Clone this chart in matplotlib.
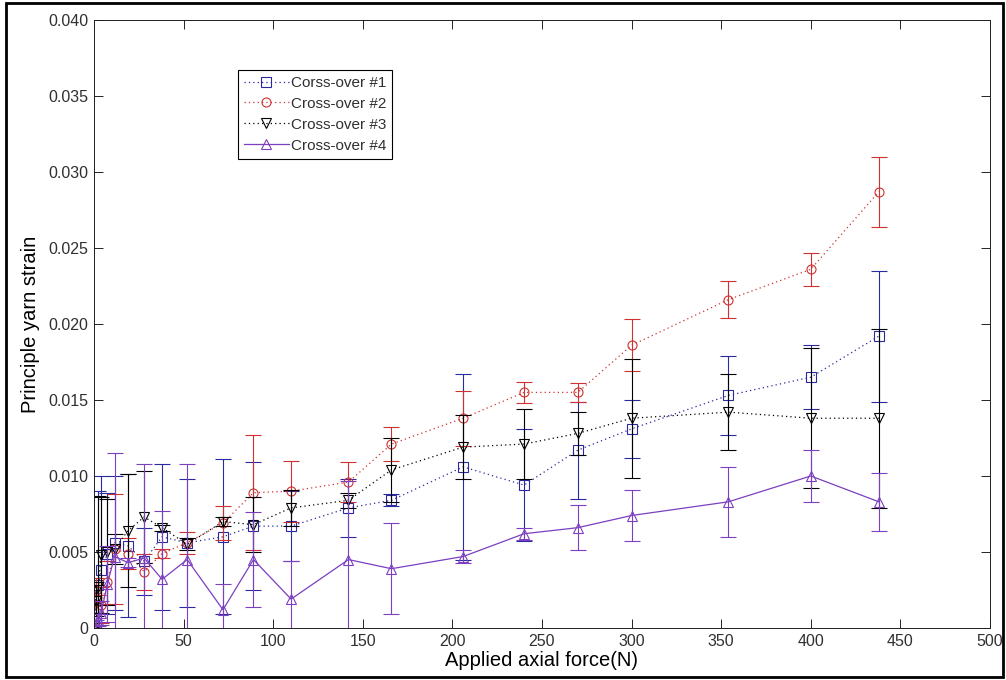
import matplotlib
matplotlib.use('Agg')
import matplotlib.pyplot as plt
from matplotlib.patches import Rectangle
from matplotlib.ticker import FuncFormatter

# applied axial force (N), shared by all four cross-overs
force = [0, 1, 2.5, 4, 7.5, 11.5, 19, 28, 38, 52, 72, 89, 110, 142, 166, 206, 240, 270, 300, 354, 400, 438]

strain_1 = [0.0001, 0.0020, 0.0028, 0.0038, 0.0049, 0.0056, 0.0054, 0.0044, 0.0060, 0.0056, 0.0060,
            0.0067, 0.0067, 0.0079, 0.0084, 0.0106, 0.0094, 0.0117, 0.0131, 0.0153, 0.0165, 0.0192]
err_1 = [0.0001, 0.0010, 0.0062, 0.0062, 0.0040, 0.0044, 0.0047, 0.0022, 0.0048, 0.0042, 0.0051,
         0.0042, 0.0023, 0.0019, 0.0004, 0.0061, 0.0037, 0.0032, 0.0019, 0.0026, 0.0021, 0.0043]

strain_2 = [0.0000, 0.0025, 0.0012, 0.0015, 0.0030, 0.0052, 0.0049, 0.0037, 0.0049, 0.0056, 0.0069,
            0.0089, 0.0090, 0.0096, 0.0121, 0.0138, 0.0155, 0.0155, 0.0186, 0.0216, 0.0236, 0.0287]
err_2 = [0.0001, 0.0008, 0.0010, 0.0012, 0.0014, 0.0036, 0.0010, 0.0012, 0.0003, 0.0007, 0.0011,
         0.0038, 0.0020, 0.0013, 0.0011, 0.0018, 0.0007, 0.0006, 0.0017, 0.0012, 0.0011, 0.0023]

strain_3 = [0.0000, 0.0018, 0.0027, 0.0048, 0.0050, 0.0052, 0.0064, 0.0073, 0.0066, 0.0055, 0.0070,
            0.0068, 0.0079, 0.0084, 0.0104, 0.0119, 0.0121, 0.0128, 0.0138, 0.0142, 0.0138, 0.0138]
err_3 = [0.0001, 0.0010, 0.0060, 0.0038, 0.0035, 0.0010, 0.0037, 0.0030, 0.0002, 0.0004, 0.0003,
         0.0018, 0.0012, 0.0005, 0.0021, 0.0021, 0.0023, 0.0014, 0.0039, 0.0025, 0.0046, 0.0059]

strain_4 = [0.0000, 0.0003, 0.0005, 0.0010, 0.0029, 0.0047, 0.0043, 0.0046, 0.0032, 0.0045, 0.0012,
            0.0045, 0.0019, 0.0045, 0.0039, 0.0047, 0.0062, 0.0066, 0.0074, 0.0083, 0.0100, 0.0083]
err_4 = [0.0001, 0.0002, 0.0004, 0.0008, 0.0025, 0.0068, 0.0003, 0.0062, 0.0045, 0.0063, 0.0017,
         0.0031, 0.0025, 0.0052, 0.0030, 0.0004, 0.0004, 0.0015, 0.0017, 0.0023, 0.0017, 0.0019]

labels = ['Corss-over #1', 'Cross-over #2', 'Cross-over #3', 'Cross-over #4']

plt.rcParams['font.family'] = ['Liberation Sans', 'DejaVu Sans']

fig = plt.figure(figsize=(10.06, 6.8), dpi=100)
ax = fig.add_axes([0.0934, 0.0765, 0.8907, 0.8941])

series = [
    [strain_1, err_1, '#2a2aa0', 's', (0, (1, 2.5))],
    [strain_2, err_2, '#d03030', 'o', (0, (1, 2.5))],
    [strain_3, err_3, '#000000', 'v', (0, (1, 2.5))],
    [strain_4, err_4, '#7b3fbf', '^', '-'],
]
for (y, e, c, m, ls), lab in zip(series, labels):
    ax.errorbar(force, y, yerr=e, fmt='none', ecolor=c, elinewidth=0.8,
                capsize=6, capthick=0.8)
    ax.plot(force, y, color=c, linestyle=ls, linewidth=0.9, marker=m,
            markersize=6.5, markerfacecolor='none', markeredgecolor=c,
            markeredgewidth=0.8, label=lab)

ax.set_xlim(0, 500)
ax.set_ylim(0, 0.04)
ax.set_xticks(range(0, 501, 50))
ax.set_yticks([i * 0.005 for i in range(9)])
ax.yaxis.set_major_formatter(FuncFormatter(lambda v, p: '0' if abs(v) < 1e-9 else '%.3f' % v))
ax.tick_params(direction='in', length=6.5, width=0.6, top=True, right=True,
               labelsize=11.5, labelcolor='#303030', pad=4)
for sp in ax.spines.values():
    sp.set_linewidth(0.7)
    sp.set_color('#202020')

ax.set_xlabel('Applied axial force(N)', fontsize=14.5, labelpad=2)
ax.set_ylabel('Principle yarn strain', fontsize=14.5, labelpad=6)

leg = ax.legend(loc='upper left', bbox_to_anchor=(0.161, 0.918), fontsize=11,
                handlelength=2.9, handletextpad=0.15, borderpad=0.4,
                labelspacing=0.45, fancybox=False, framealpha=1,
                edgecolor='black', borderaxespad=0)
leg.get_frame().set_linewidth(0.8)
for t in leg.get_texts():
    t.set_color('#303030')

# black frame round the whole picture
fig.patches.append(Rectangle((0.006, 0.0044), 0.991, 0.991, transform=fig.transFigure,
                             fill=False, edgecolor='black', linewidth=2))

fig.savefig('out.png', dpi=100)
